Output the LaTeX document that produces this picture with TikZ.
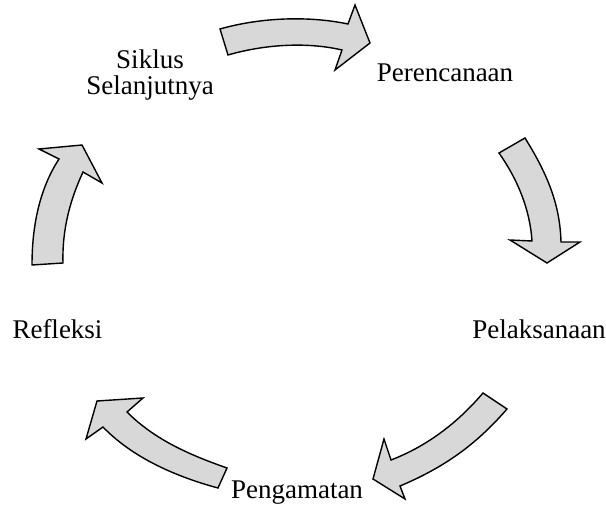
\documentclass[tikz,border=0pt]{standalone}
\usepackage{fontspec}
\setmainfont{Liberation Serif}
\definecolor{arrowfill}{RGB}{216,216,216}
\tikzset{
  blockarrow/.style={draw=black, fill=arrowfill, line width=1.4pt, line join=miter},
  lbl/.style={anchor=base, inner sep=0pt, font=\fontsize{27}{26}\selectfont, align=center}
}
\begin{document}
\begin{tikzpicture}[x=1pt,y=-1pt]
\useasboundingbox (0,0) rectangle (606,505);
% labels
\node[lbl] (plan) at (445,82) {Perencanaan};
\node[lbl] (act) at (539,339) {Pelaksanaan};
\node[lbl] (obs) at (297,498) {Pengamatan};
\node[lbl] (refl) at (57.5,339) {Refleksi};
\node[lbl] (next) at (150,95) {Siklus\\Selanjutnya};
% block arrows
\path[blockarrow] (220,29) .. controls (262,17) and (310,16) .. (348,24) -- (355,5) -- (370,43) -- (335,70) -- (342,50) .. controls (308,42) and (266,44) .. (228,55) -- cycle;
\path[blockarrow] (499,153) -- (525,138) .. controls (548,175) and (560,205) .. (561,242) -- (580,242) -- (547,263) -- (510,240) -- (532,241) .. controls (530,210) and (518,180) .. (499,153) -- cycle;
\path[blockarrow] (483,393) -- (507,409) .. controls (480,440) and (450,465) .. (400,486) -- (405,499) -- (373,479) -- (384,439) -- (391,460) .. controls (430,445) and (460,420) .. (483,393) -- cycle;
\path[blockarrow] (218,488) .. controls (170,475) and (130,455) .. (103,427) -- (86,439) -- (97,401) -- (143,398) -- (127,412) .. controls (155,440) and (190,455) .. (227,468) -- cycle;
\path[blockarrow] (32,265) .. controls (32,220) and (42,185) .. (59,159) -- (39,149) -- (82,145) -- (102,183) -- (83,172) .. controls (70,200) and (62,230) .. (63,263) -- cycle;
\end{tikzpicture}
\end{document}
